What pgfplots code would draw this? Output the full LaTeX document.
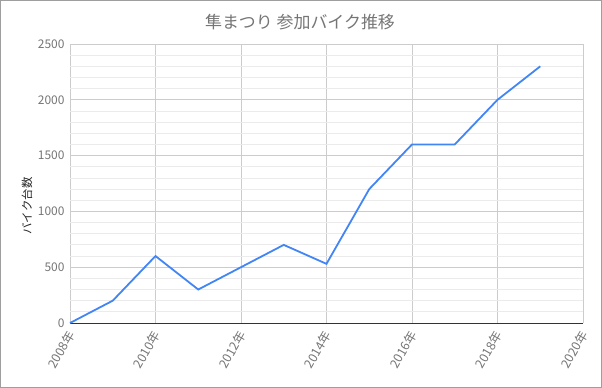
\documentclass[border=0pt]{standalone}
\usepackage{fontspec}
\setmainfont{Noto Sans CJK JP}
\usepackage{pgfplots}
\pgfplotsset{compat=1.18}
\definecolor{lineblue}{HTML}{4285F4}
\definecolor{ticktext}{HTML}{757575}
\definecolor{majorgrid}{HTML}{CCCCCC}
\definecolor{minorgrid}{HTML}{EBEBEB}
\definecolor{frame}{HTML}{9E9E9E}
\begin{document}
\begin{tikzpicture}
\begin{axis}[
  at={(0,0)}, anchor=south west,
  scale only axis, width=513bp, height=279bp,
  xmin=2008, xmax=2020, ymin=0, ymax=2500,
  xtick={2008,2010,...,2020},
  xticklabels={2008年,2010年,2012年,2014年,2016年,2018年,2020年},
  ytick={0,500,...,2500},
  minor x tick num=1, minor y tick num=4,
  major tick length=0pt, minor tick length=0pt,
  grid=both,
  major grid style={majorgrid, line width=0.8bp},
  minor grid style={minorgrid, line width=0.8bp},
  axis x line*=bottom, axis y line*=left,
  x axis line style={draw=black!80, line width=1bp, -},
  y axis line style={draw=none},
  /pgf/number format/assume math mode=true,
  /pgf/number format/1000 sep={},
  yticklabel style={font=\fontsize{12}{13}\selectfont, text=ticktext, xshift=-2bp},
  xticklabel style={font=\fontsize{12.5}{13}\selectfont, text=ticktext, yshift=-6bp, xshift=3bp, rotate=60, anchor=east},
  clip=false,
]
\addplot[lineblue, line width=1.8bp, no markers] coordinates {
 (2008,0) (2009,200) (2010,600) (2011,300) (2012,500) (2013,700)
 (2014,530) (2015,1200) (2016,1600) (2017,1600) (2018,2000) (2019,2300)
};
\end{axis}
\draw[frame, line width=1bp] (-69.5bp,-64.5bp) rectangle (531.5bp,322.5bp);
\node[text=ticktext, font=\fontsize{17}{18}\selectfont] at (230bp,301bp) {隼まつり 参加バイク推移};
\node[text=black!85, rotate=90, font=\fontsize{11.5}{12}\selectfont] at (-43bp,117bp) {バイク台数};
\end{tikzpicture}
\end{document}
